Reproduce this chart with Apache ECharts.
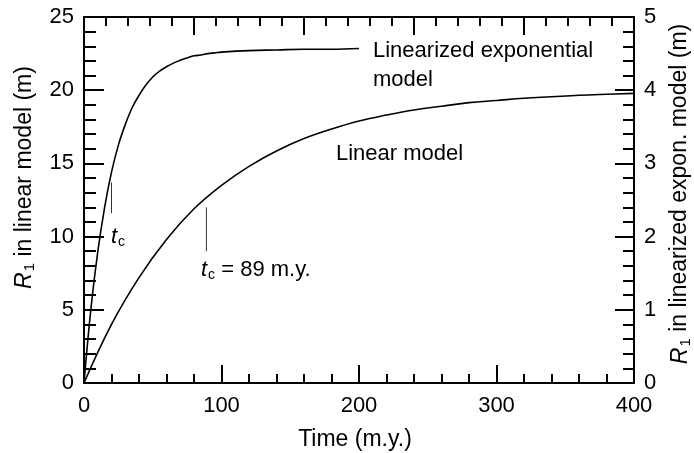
<!DOCTYPE html>
<html>
<head>
<meta charset="utf-8">
<script src="https://cdn.jsdelivr.net/npm/echarts@6/dist/echarts.min.js"></script>
<style>
  html, body { margin: 0; padding: 0; background: #fff; }
  #container { width: 694px; height: 453px; }
</style>
</head>
<body>
<div id="container"></div>
<script>
// values
// linear model, left axis (m)
let linearTime = [0, 20, 40, 60, 80, 100, 120, 140, 160, 180, 200, 220, 240, 260, 280, 300, 320, 340, 360, 380, 400];
let linearR = [0, 4.0, 7.2, 9.8, 11.9, 13.5, 14.8, 15.85, 16.7, 17.35, 17.9, 18.3, 18.65, 18.9, 19.15, 19.3, 19.45, 19.55, 19.65, 19.72, 19.78];

// linearized exponential model, right axis (m)
let expTime = [0, 5, 10, 15, 20, 25, 30, 35, 40, 45, 50, 55, 60, 65, 70, 75, 80, 85, 90, 95, 100, 120, 140, 160, 180, 200];
let expR = [0, 1.01, 1.79, 2.4, 2.88, 3.25, 3.53, 3.76, 3.93, 4.07, 4.18, 4.26, 4.32, 4.37, 4.41, 4.44, 4.47, 4.48, 4.5, 4.51, 4.52, 4.54, 4.55, 4.56, 4.56, 4.57];

// t_c markers (time, from R, to R) on left axis scale
let tcMarks = [
  [20, 13.7, 11.6],
  [89, 12.0, 9.0]
];

let font = 'Liberation Sans, Arial, sans-serif';
let black = '#000';

let graph = echarts.init(document.getElementById('container'));

// rich styles: italic symbol + subscript
function rich(size) {
  return {
    i: { fontStyle: 'italic', fontSize: size, fontFamily: font, color: black },
    s: { fontSize: Math.round(size * 0.65), fontFamily: font, color: black, lineHeight: 14, padding: [11, 0, 0, 1] },
    n: { fontSize: size, fontFamily: font, color: black }
  };
}

let tickStyle = { color: black, width: 2 };

let option = {
  animation: false,
  backgroundColor: '#fff',
  grid: { left: 84, right: 60, top: 17, bottom: 70, containLabel: false, outerBoundsMode: 'none' },
  xAxis: [
    {
      type: 'value', min: 0, max: 400, interval: 100, position: 'bottom',
      name: 'Time (m.y.)', nameLocation: 'middle', nameGap: 45,
      nameTextStyle: { fontSize: 23, fontFamily: font, color: black, padding: [0, 8, 0, 0] },
      axisLine: { onZero: false, lineStyle: tickStyle },
      axisTick: { inside: true, length: 18, lineStyle: tickStyle },
      minorTick: { show: true, splitNumber: 5, length: 9, lineStyle: tickStyle },
      axisLabel: { margin: 12, fontSize: 22, fontFamily: font, color: black },
      splitLine: { show: false }
    },
    {
      type: 'value', min: 0, max: 25, interval: 5, position: 'top',
      axisLine: { show: true, onZero: false, lineStyle: tickStyle },
      axisTick: { show: true, inside: true, length: 18, lineStyle: tickStyle },
      minorTick: { show: true, splitNumber: 5, length: 9, lineStyle: tickStyle },
      axisLabel: { show: false },
      splitLine: { show: false }
    }
  ],
  yAxis: [
    {
      type: 'value', min: 0, max: 25, interval: 5, position: 'left',
      name: '{i|R}{s|1}{n| in linear model (m)}', nameLocation: 'middle', nameGap: 48, nameRotate: 90,
      nameTextStyle: { rich: rich(23), padding: [0, 0, 0, 45] },
      axisLine: { show: true, onZero: false, lineStyle: tickStyle },
      axisTick: { show: true, inside: true, length: 20, lineStyle: tickStyle },
      minorTick: { show: true, splitNumber: 5, length: 12, lineStyle: tickStyle },
      axisLabel: { margin: 10, fontSize: 22, fontFamily: font, color: black },
      splitLine: { show: false }
    },
    {
      type: 'value', min: 0, max: 5, interval: 1, position: 'right',
      name: '{i|R}{s|1}{n| in linearized expon. model (m)}', nameLocation: 'middle', nameGap: 34, nameRotate: 90,
      nameTextStyle: { rich: rich(23), padding: [0, 0, 0, 12] },
      axisLine: { show: true, onZero: false, lineStyle: tickStyle },
      axisTick: { show: true, inside: true, length: 19, lineStyle: tickStyle },
      minorTick: { show: true, splitNumber: 5, length: 11, lineStyle: tickStyle },
      axisLabel: { margin: 10, fontSize: 22, fontFamily: font, color: black },
      splitLine: { show: false }
    }
  ],
  series: [
    {
      name: 'Linear model', type: 'line', xAxisIndex: 0, yAxisIndex: 0,
      smooth: 0.4, showSymbol: false, symbol: 'none',
      lineStyle: { color: black, width: 1.6 },
      data: linearTime.map((t, i) => [t, linearR[i]])
    },
    {
      name: 'Linearized exponential model', type: 'line', xAxisIndex: 0, yAxisIndex: 1,
      smooth: 0.4, showSymbol: false, symbol: 'none',
      lineStyle: { color: black, width: 1.6 },
      data: expTime.map((t, i) => [t, expR[i]])
    }
  ].concat(tcMarks.map((m) => ({
    type: 'line', xAxisIndex: 0, yAxisIndex: 0, symbol: 'none',
    lineStyle: { color: '#333', width: 1 },
    data: [[m[0], m[1]], [m[0], m[2]]]
  }))),
  graphic: [
    { type: 'text', left: 373, top: 36, style: { text: 'Linearized exponential\nmodel', font: '22px ' + font, fill: black, lineHeight: 29 } },
    { type: 'text', left: 336, top: 143, style: { text: 'Linear model', font: '22px ' + font, fill: black } },
    { type: 'text', left: 111, top: 224, style: { text: '{i|t}{s|c}', rich: rich(22) } },
    { type: 'text', left: 201, top: 257, style: { text: '{i|t}{s|c}{n| = 89 m.y.}', rich: rich(22) } }
  ]
};

graph.setOption(option);
</script>
</body>
</html>
